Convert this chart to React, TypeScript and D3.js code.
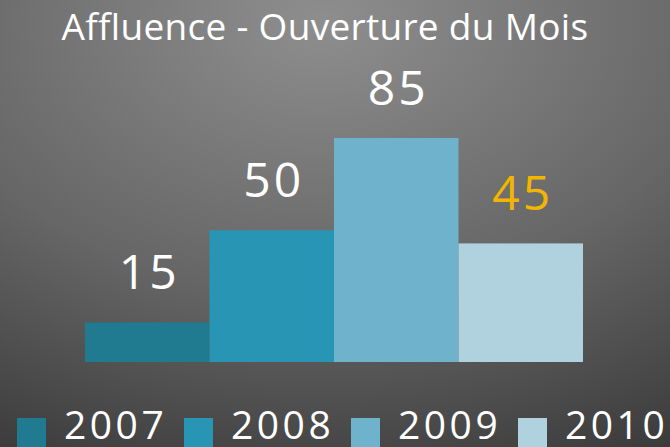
import React from 'react'
import * as d3 from 'd3'

// chart data
const years = ['2007', '2008', '2009', '2010']
const values = [15, 50, 85, 45]
const colors = ['#217b90', '#2795b3', '#6fb2cb', '#b0d1de']
const labelColors = ['#ffffff', '#ffffff', '#ffffff', '#f2b600']
const title = 'Affluence - Ouverture du Mois'

const W = 670
const H = 447

export default function App() {
    const x = d3.scaleBand()
        .domain(years)
        .range([85, 583])
        .padding(0)

    const y = d3.scaleLinear()
        .domain([0, 85])
        .range([362, 138])

    const legendX = d3.scaleBand()
        .domain(years)
        .range([17, 685])

    const font = '"Open Sans", "DejaVu Sans", sans-serif'

    return (
        <svg width={W} height={H} style={{ position: 'absolute', top: 0, left: 0 }}>
            <defs>
                <radialGradient id="bg" cx="0.48" cy="0.05" r="1.2" gradientUnits="objectBoundingBox">
                    <stop offset="0" stopColor="#8e8e8e" />
                    <stop offset="0.5" stopColor="#666666" />
                    <stop offset="1" stopColor="#303030" />
                </radialGradient>
            </defs>
            <rect width={W} height={H} fill="url(#bg)" />

            <text x={325} y={40} textAnchor="middle" fill="#fff"
                fontFamily={font} fontSize={37} letterSpacing={0.3}>{title}</text>

            {years.map((yr, i) => (
                <rect key={yr}
                    x={x(yr)}
                    y={y(values[i])}
                    width={x.bandwidth()}
                    height={y(0) - y(values[i])}
                    fill={colors[i]} />
            ))}

            {years.map((yr, i) => (
                <text key={'l' + yr}
                    x={(x(yr) ?? 0) + x.bandwidth() / 2 + 2}
                    y={y(values[i]) - 33}
                    textAnchor="middle"
                    fill={labelColors[i]}
                    fontFamily={font}
                    fontSize={48}
                    letterSpacing={3}>{values[i]}</text>
            ))}

            {years.map((yr, i) => (
                <g key={'g' + yr} transform={`translate(${legendX(yr)},0)`}>
                    <rect x={0} y={418} width={29} height={40} fill={colors[i]} />
                    <text x={47} y={439} fill="#fff" fontFamily={font}
                        fontSize={39} letterSpacing={3.5}>{yr}</text>
                </g>
            ))}
        </svg>
    )
}
